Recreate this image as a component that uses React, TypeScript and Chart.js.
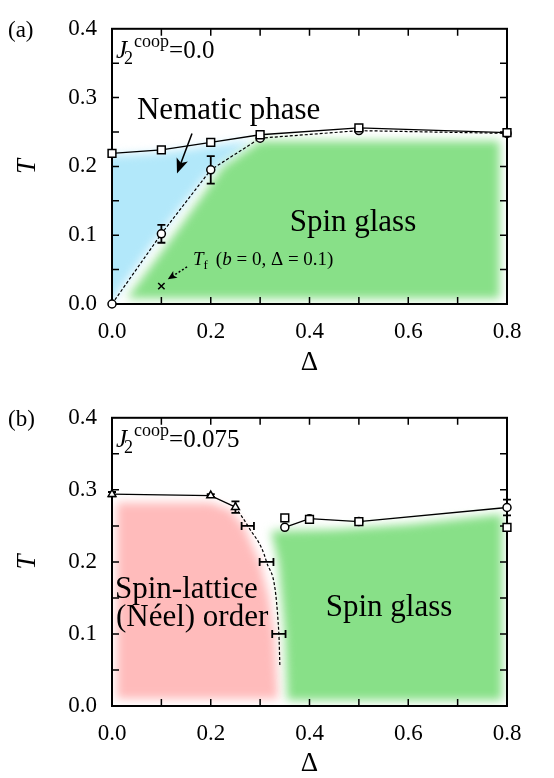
import { useEffect, useRef } from "react";
import { Chart, registerables } from "chart.js";

Chart.register(...registerables);

const SERIF = "'Liberation Serif', serif";
const PANEL_W = 554;
const PANEL_H = 389;

// Shared axes: Δ along x, T along y
const deltaMin = 0;
const deltaMax = 0.8;
const deltaTickStep = 0.1;
const tMin = 0;
const tMax = 0.4;
const tTickStep = 0.05;

// ---------- (a) J2coop = 0.0 ----------
const deltaA = [0, 0.1, 0.2, 0.3, 0.5, 0.8];
const tUpperA = [0.219, 0.224, 0.235, 0.246, 0.256, 0.249]; // squares, solid
const tLowerA = [0, 0.102, 0.195, 0.241, 0.252, 0.248]; // circles, dashed
const tLowerErrA = [0, 0.013, 0.02, 0, 0, 0];
const tfDeltaA = [0.1];
const tfA = [0.026];

// phase regions as (Δ, T) outlines
const nematicRegionA: [number, number][] = [
  [-0.02, 0.215], [0.1, 0.22], [0.2, 0.23], [0.285, 0.238],
  [0.19, 0.186], [0.09, 0.095], [0.0, 0.004], [-0.02, 0.0],
];
const glassRegionA: [number, number][] = [
  [0.03, 0.008], [0.125, 0.1], [0.225, 0.2], [0.3, 0.237],
  [0.785, 0.237], [0.785, 0.008],
];

// ---------- (b) J2coop = 0.075 ----------
const deltaNeelB = [0, 0.2, 0.25];
const tNeelB = [0.294, 0.292, 0.276];
const tNeelErrB = [0.003, 0.002, 0.008];
const deltaEdgeB = [0.25, 0.275, 0.313, 0.338, 0.34];
const tEdgeB = [0.276, 0.25, 0.2, 0.1, 0.055];
const deltaEdgeErrB = [0, 0.0125, 0.014, 0.0135, 0];
const deltaGlassB = [0.35, 0.4, 0.5, 0.8];
const tGlassCircleB = [0.248, 0.26, 0.256, 0.2755];
const tGlassCircleErrB = [0, 0, 0, 0.011];
const tGlassSquareB = [0.261, 0.259, 0.256, 0.248];

const neelRegionB: [number, number][] = [
  [0.01, 0.282], [0.2, 0.282], [0.24, 0.272], [0.268, 0.248], [0.3, 0.198],
  [0.318, 0.15], [0.329, 0.1], [0.336, 0.01], [0.01, 0.01],
];
const glassRegionB: [number, number][] = [
  [0.322, 0.243], [0.45, 0.245], [0.6, 0.252], [0.79, 0.266],
  [0.79, 0.008], [0.355, 0.008], [0.35, 0.1], [0.337, 0.2],
];

const GREEN = "rgb(136, 224, 136)";
const BLUE = "rgb(178, 232, 250)";
const PINK = "rgb(255, 187, 187)";

type XY = { x: number; y: number };
const pts = (xs: number[], ys: number[]): XY[] => xs.map((x, i) => ({ x, y: ys[i] }));

type ErrSet = { x: number[]; y: number[]; xErr?: number[]; yErr?: number[] };
type Region = { color: string; outline: [number, number][] };
type Panel = {
  tag: string;
  coupling: string;
  chartTop: number;
  xAxisHeight: number;
  xTitlePad: number;
  regions: Region[];
  errors: ErrSet[];
  datasets: any[];
  annotate: (ctx: CanvasRenderingContext2D, px: (d: number) => number, py: (t: number) => number) => void;
};

function arrow(
  ctx: CanvasRenderingContext2D,
  x1: number, y1: number, x2: number, y2: number,
  head: number, half: number, dash: number[]
) {
  const a = Math.atan2(y2 - y1, x2 - x1);
  const c = Math.cos(a), s = Math.sin(a);
  ctx.save();
  ctx.strokeStyle = "#000";
  ctx.fillStyle = "#000";
  ctx.lineWidth = 1.5;
  ctx.setLineDash(dash);
  ctx.beginPath();
  ctx.moveTo(x1, y1);
  ctx.lineTo(x2 - c * head * 0.7, y2 - s * head * 0.7);
  ctx.stroke();
  ctx.setLineDash([]);
  ctx.beginPath();
  ctx.moveTo(x2, y2);
  ctx.lineTo(x2 - c * head - s * half, y2 - s * head + c * half);
  ctx.lineTo(x2 - c * head * 0.75, y2 - s * head * 0.75);
  ctx.lineTo(x2 - c * head + s * half, y2 - s * head - c * half);
  ctx.closePath();
  ctx.fill();
  ctx.restore();
}

function drawCoupling(ctx: CanvasRenderingContext2D, x0: number, y0: number, value: string) {
  ctx.save();
  ctx.fillStyle = "#000";
  ctx.textAlign = "left";
  ctx.textBaseline = "alphabetic";
  let x = x0;
  ctx.font = `italic 25px ${SERIF}`;
  ctx.fillText("J", x, y0);
  x += ctx.measureText("J").width;
  ctx.font = `18px ${SERIF}`;
  ctx.fillText("2", x - 3, y0 + 6);
  x += ctx.measureText("2").width - 2;
  ctx.fillText("coop", x, y0 - 11);
  x += ctx.measureText("coop").width;
  ctx.font = `25px ${SERIF}`;
  ctx.fillText("=" + value, x, y0);
  ctx.restore();
}

function panelPlugin(panel: Panel) {
  return {
    id: "panel" + panel.tag,
    beforeDatasetsDraw(chart: any) {
      const { ctx, chartArea: a, scales } = chart;
      const xs = scales.x, ys = scales.y;
      const px = (d: number) => xs.getPixelForValue(d);
      const py = (t: number) => ys.getPixelForValue(t);

      // soft-edged phase regions
      ctx.save();
      ctx.beginPath();
      ctx.rect(a.left, a.top, a.right - a.left, a.bottom - a.top);
      ctx.clip();
      ctx.filter = "blur(5px)";
      for (const r of panel.regions) {
        ctx.fillStyle = r.color;
        ctx.beginPath();
        r.outline.forEach(([d, t], i) => {
          if (i === 0) ctx.moveTo(px(d), py(t));
          else ctx.lineTo(px(d), py(t));
        });
        ctx.closePath();
        ctx.fill();
      }
      ctx.restore();

      // frame with inward ticks on all four sides
      ctx.save();
      ctx.strokeStyle = "#000";
      ctx.lineWidth = 1.5;
      const tl = 7;
      ctx.beginPath();
      for (const tk of xs.ticks) {
        const x = px(tk.value);
        if (x <= a.left + 1 || x >= a.right - 1) continue;
        ctx.moveTo(x, a.bottom); ctx.lineTo(x, a.bottom - tl);
        ctx.moveTo(x, a.top); ctx.lineTo(x, a.top + tl);
      }
      for (const tk of ys.ticks) {
        const y = py(tk.value);
        if (y <= a.top + 1 || y >= a.bottom - 1) continue;
        ctx.moveTo(a.left, y); ctx.lineTo(a.left + tl, y);
        ctx.moveTo(a.right, y); ctx.lineTo(a.right - tl, y);
      }
      ctx.stroke();
      ctx.lineWidth = 2;
      ctx.strokeRect(a.left, a.top, a.right - a.left, a.bottom - a.top);
      ctx.restore();

      // error bars
      ctx.save();
      ctx.strokeStyle = "#000";
      ctx.lineWidth = 1.8;
      const cap = 4;
      ctx.beginPath();
      for (const e of panel.errors) {
        e.x.forEach((d, i) => {
          const t = e.y[i];
          const x = px(d), y = py(t);
          const dy = e.yErr ? e.yErr[i] : 0;
          const dx = e.xErr ? e.xErr[i] : 0;
          if (dy > 0) {
            const y1 = py(t + dy), y2 = py(t - dy);
            ctx.moveTo(x, y1); ctx.lineTo(x, y2);
            ctx.moveTo(x - cap, y1); ctx.lineTo(x + cap, y1);
            ctx.moveTo(x - cap, y2); ctx.lineTo(x + cap, y2);
          }
          if (dx > 0) {
            const x1 = px(d - dx), x2 = px(d + dx);
            ctx.moveTo(x1, y); ctx.lineTo(x2, y);
            ctx.moveTo(x1, y - cap); ctx.lineTo(x1, y + cap);
            ctx.moveTo(x2, y - cap); ctx.lineTo(x2, y + cap);
          }
        });
      }
      ctx.stroke();
      ctx.restore();
    },
    afterDatasetsDraw(chart: any) {
      const { ctx, chartArea: a, scales } = chart;
      const px = (d: number) => scales.x.getPixelForValue(d);
      const py = (t: number) => scales.y.getPixelForValue(t);
      ctx.save();
      ctx.fillStyle = "#000";
      ctx.font = `23px ${SERIF}`;
      ctx.textAlign = "left";
      ctx.textBaseline = "middle";
      ctx.fillText(`(${panel.tag})`, 8, a.top + 2);
      ctx.restore();
      drawCoupling(ctx, a.left + 4, a.top + 29, panel.coupling);
      ctx.save();
      panel.annotate(ctx, px, py);
      ctx.restore();
    },
  };
}

function makeConfig(panel: Panel): any {
  const isMajor = (v: number, step: number) => Math.round(v / step) % 2 === 0;
  return {
    type: "line",
    data: { datasets: panel.datasets },
    options: {
      responsive: false,
      animation: false,
      devicePixelRatio: 1,
      events: [],
      layout: { padding: { left: 0, right: 47, top: panel.chartTop, bottom: 0 } },
      plugins: { legend: { display: false }, tooltip: { enabled: false } },
      scales: {
        x: {
          type: "linear",
          min: deltaMin,
          max: deltaMax,
          grid: { display: false, drawTicks: false },
          border: { display: false },
          ticks: {
            stepSize: deltaTickStep,
            autoSkip: false,
            maxRotation: 0,
            padding: 14,
            color: "#000",
            font: { family: SERIF, size: 23 },
            callback: (v: number) => (isMajor(v, deltaTickStep) ? v.toFixed(1) : ""),
          },
          title: {
            display: true,
            text: "Δ",
            color: "#000",
            font: { family: SERIF, size: 27, lineHeight: 1 },
            padding: { top: 0, bottom: panel.xTitlePad },
          },
          afterFit: (s: any) => {
            s.height = panel.xAxisHeight;
          },
        },
        y: {
          type: "linear",
          min: tMin,
          max: tMax,
          grid: { display: false, drawTicks: false },
          border: { display: false },
          ticks: {
            stepSize: tTickStep,
            autoSkip: false,
            padding: 15,
            color: "#000",
            font: { family: SERIF, size: 23 },
            callback: (v: number) => (isMajor(v, tTickStep) ? v.toFixed(1) : ""),
          },
          title: {
            display: true,
            text: "T",
            color: "#000",
            font: { family: SERIF, size: 27, style: "italic", lineHeight: 1 },
            padding: { top: 14, bottom: 0 },
          },
          afterFit: (s: any) => {
            s.width = 112;
          },
        },
      },
    },
    plugins: [panelPlugin(panel)],
  };
}

const marker = (style: string, radius: number) => ({
  pointStyle: style,
  pointRadius: radius,
  pointBorderWidth: 1.5,
  pointBorderColor: "#000",
  pointBackgroundColor: "#fff",
  borderColor: "#000",
  clip: false,
});

const panelA: Panel = {
  tag: "a",
  coupling: "0.0",
  chartTop: 15,
  xAxisHeight: 85,
  xTitlePad: 13,
  regions: [
    { color: BLUE, outline: nematicRegionA },
    { color: GREEN, outline: glassRegionA },
  ],
  errors: [{ x: deltaA, y: tLowerA, yErr: tLowerErrA }],
  datasets: [
    { data: pts(deltaA, tUpperA), borderWidth: 1.3, ...marker("rect", 5.5) },
    { data: pts(deltaA, tLowerA), borderWidth: 1.2, borderDash: [3, 2], ...marker("circle", 4) },
    { data: pts(tfDeltaA, tfA), showLine: false, ...marker("crossRot", 4.5) },
  ],
  annotate: (ctx, px, py) => {
    ctx.fillStyle = "#000";
    ctx.textBaseline = "alphabetic";
    ctx.textAlign = "left";
    ctx.font = `31px ${SERIF}`;
    ctx.fillText("Nematic phase", px(0.0506), py(0.2685));
    arrow(ctx, px(0.162), py(0.2477), px(0.1316), py(0.1896), 15, 6, []);
    ctx.textAlign = "center";
    ctx.fillText("Spin glass", px(0.488), py(0.1066));

    // T_f (b = 0, Δ = 0.1)
    ctx.textAlign = "left";
    let x = px(0.164);
    const y = py(0.0567);
    ctx.font = `italic 19px ${SERIF}`;
    ctx.fillText("T", x, y);
    x += ctx.measureText("T").width;
    ctx.font = `13px ${SERIF}`;
    ctx.fillText("f", x, y + 4);
    x += ctx.measureText("f").width + 8;
    ctx.font = `19px ${SERIF}`;
    ctx.fillText("(", x, y);
    x += ctx.measureText("(").width;
    ctx.font = `italic 19px ${SERIF}`;
    ctx.fillText("b", x, y);
    x += ctx.measureText("b").width;
    ctx.font = `19px ${SERIF}`;
    ctx.fillText(" = 0, Δ = 0.1)", x, y);
    arrow(ctx, px(0.152), py(0.054), px(0.113), py(0.036), 9, 4, [2, 2]);
  },
};

const panelB: Panel = {
  tag: "b",
  coupling: "0.075",
  chartTop: 28,
  xAxisHeight: 72,
  xTitlePad: 1,
  regions: [
    { color: PINK, outline: neelRegionB },
    { color: GREEN, outline: glassRegionB },
  ],
  errors: [
    { x: deltaNeelB, y: tNeelB, yErr: tNeelErrB },
    { x: deltaEdgeB, y: tEdgeB, xErr: deltaEdgeErrB },
    { x: deltaGlassB, y: tGlassCircleB, yErr: tGlassCircleErrB },
  ],
  datasets: [
    { data: pts(deltaGlassB, tGlassSquareB), showLine: false, ...marker("rect", 5.5) },
    { data: pts(deltaGlassB, tGlassCircleB), borderWidth: 1.3, ...marker("circle", 4) },
    { data: pts(deltaNeelB, tNeelB), borderWidth: 1.3, ...marker("triangle", 4.5) },
    {
      data: pts(deltaEdgeB, tEdgeB),
      borderWidth: 1.2,
      borderDash: [3, 2],
      cubicInterpolationMode: "monotone",
      ...marker("circle", 0),
    },
  ],
  annotate: (ctx, px, py) => {
    ctx.fillStyle = "#000";
    ctx.textBaseline = "alphabetic";
    ctx.textAlign = "left";
    ctx.font = `31px ${SERIF}`;
    ctx.fillText("Spin-lattice", px(0.006), py(0.1505));
    ctx.fillText("(Néel) order", px(0.008), py(0.1117));
    ctx.textAlign = "center";
    ctx.fillText("Spin glass", px(0.561), py(0.1255));
  },
};

function PanelChart({ panel, top }: { panel: Panel; top: number }) {
  const ref = useRef<HTMLCanvasElement>(null);
  useEffect(() => {
    let chart: Chart | null = null;
    let cancelled = false;
    const fonts: any = (document as any).fonts;
    const ready = fonts
      ? Promise.all([
          fonts.load(`23px ${SERIF}`),
          fonts.load(`italic 23px ${SERIF}`),
        ]).catch(() => null)
      : Promise.resolve(null);
    ready.then(() => {
      if (cancelled || !ref.current) return;
      chart = new Chart(ref.current, makeConfig(panel));
    });
    return () => {
      cancelled = true;
      if (chart) chart.destroy();
    };
  }, [panel]);
  return (
    <canvas
      ref={ref}
      width={PANEL_W}
      height={PANEL_H}
      style={{ position: "absolute", left: 0, top, width: PANEL_W, height: PANEL_H }}
    />
  );
}

export default function App() {
  return (
    <div
      style={{
        position: "fixed",
        left: 0,
        top: 0,
        width: PANEL_W,
        height: PANEL_H * 2,
        background: "#fff",
        overflow: "hidden",
      }}
    >
      <PanelChart panel={panelA} top={0} />
      <PanelChart panel={panelB} top={PANEL_H} />
    </div>
  );
}
